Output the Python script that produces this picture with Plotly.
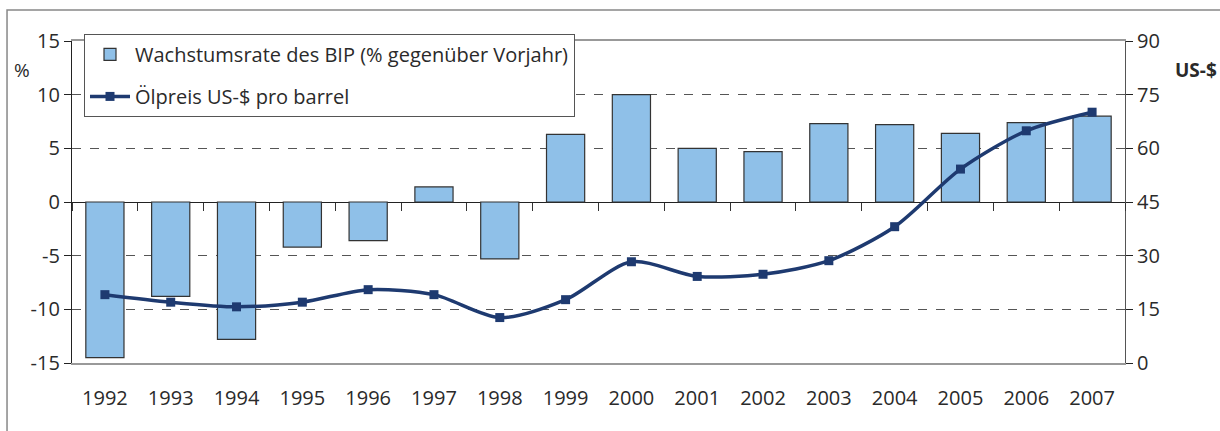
import plotly.graph_objects as go

years = [str(y) for y in range(1992, 2008)]
gdp_growth = [-14.5, -8.8, -12.8, -4.2, -3.6, 1.4, -5.3, 6.3, 10.0, 5.0, 4.7, 7.3, 7.2, 6.4, 7.4, 8.0]
oil_price = [19.1, 17.0, 15.7, 17.0, 20.5, 19.1, 12.7, 17.7, 28.3, 24.2, 24.8, 28.6, 38.1, 54.2, 64.9, 70.1]
left_ticks = [-15, -10, -5, 0, 5, 10, 15]
left_labels = ["-15", "-10", "-5", "0", "5", "10", "15"]
right_ticks = [0, 15, 30, 45, 60, 75, 90]

FONT = "Open Sans"
TXT = "#2a2a2a"
NAVY = "#1e3a70"

fig = go.Figure()
fig.add_trace(go.Bar(
    x=years, y=gdp_growth, name="Wachstumsrate des BIP (% gegenüber Vorjahr)",
    marker=dict(color="#8fc0e8", line=dict(color="#333333", width=1.2)),
    width=0.58, xaxis="x", yaxis="y", legendgroup="a",
))
fig.add_trace(go.Scatter(
    x=years, y=oil_price, name="Ölpreis US-$ pro barrel", mode="lines+markers",
    line=dict(color=NAVY, width=3.5, shape="spline", smoothing=0.8),
    marker=dict(symbol="square", size=9, color=NAVY),
    xaxis="x2", yaxis="y2", legendgroup="b",
))

fig.update_layout(
    width=1220, height=431,
    margin=dict(l=72, r=95, t=41, b=68),
    paper_bgcolor="white", plot_bgcolor="white",
    font=dict(family=FONT, size=19, color=TXT),
    showlegend=True,
    legend=dict(
        x=0.0114, y=1.022, xanchor="left", yanchor="top",
        bgcolor="white", bordercolor="#555555", borderwidth=1,
        font=dict(family=FONT, size=20, color=TXT),
        traceorder="grouped", tracegroupgap=13, itemwidth=40,
    ),
    xaxis=dict(
        type="category", range=[-0.5, 15.5], showgrid=False, automargin=False,
        showline=True, linecolor="#999999", linewidth=1.5, mirror=True,
        ticks="", tickfont=dict(size=20), ticklabelstandoff=16,
    ),
    xaxis2=dict(
        type="category", range=[-0.5, 15.5], overlaying="x", anchor="free", position=0.5,
        showgrid=False, showline=False, showticklabels=False, automargin=False,
        ticks="outside", tickson="boundaries", ticklen=8, tickcolor="#333333", tickwidth=1,
    ),
    yaxis=dict(
        range=[-15, 15], tickvals=left_ticks, ticktext=left_labels,
        showgrid=True, gridcolor="#555555",
        griddash="dash", gridwidth=1, zeroline=True, zerolinecolor="#222222", zerolinewidth=1.2,
        showline=True, linecolor="#222222", linewidth=1.2, automargin=False,
        ticks="outside", ticklen=7, tickcolor="#222222", tickfont=dict(size=20),
    ),
    yaxis2=dict(
        range=[0, 90], tickvals=right_ticks, overlaying="y", side="right", anchor="x2",
        showgrid=False, zeroline=False, automargin=False,
        showline=True, linecolor="#555555", linewidth=1.2,
        ticks="outside", ticklen=7, tickcolor="#222222", tickfont=dict(size=20),
    ),
    shapes=[dict(
        type="rect", xref="paper", yref="paper",
        x0=-0.0617, x1=1.2, y0=-0.5, y1=1.0963,
        line=dict(color="#888888", width=1.5), layer="below",
    )],
    annotations=[
        dict(text="%", xref="paper", yref="paper", x=-0.0475, y=0.91,
             xanchor="center", yanchor="middle",
             showarrow=False, font=dict(size=19, color=TXT)),
        dict(text="<b>US-$</b>", xref="paper", yref="paper", x=1.0674, y=0.91,
             xanchor="center", yanchor="middle",
             showarrow=False, font=dict(size=19, color=TXT)),
    ],
)

fig.write_html("out.html", config={"displayModeBar": False},
               post_script="document.body.style.margin='0';")
